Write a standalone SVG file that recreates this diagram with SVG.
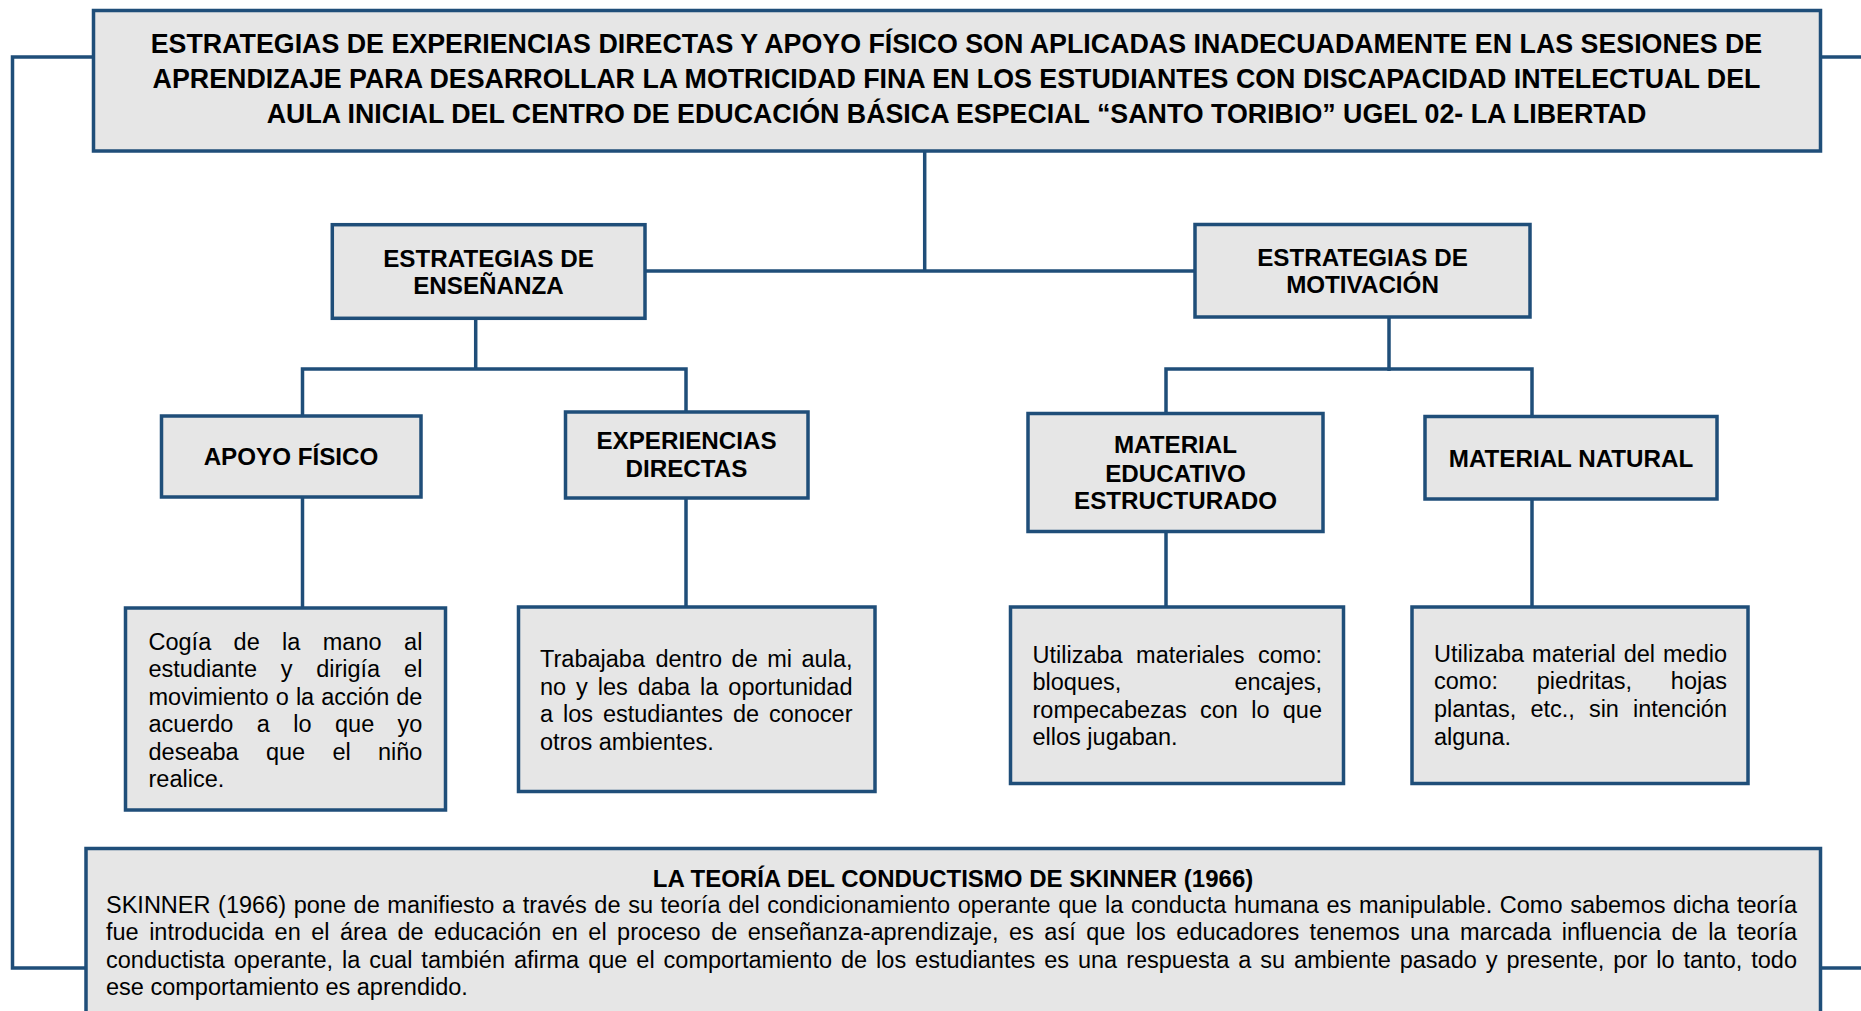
<svg xmlns="http://www.w3.org/2000/svg" width="1861" height="1011" viewBox="0 0 1861 1011">
<style>
.box{fill:#e6e6e6;stroke:#1f4e79;stroke-width:3.5}
.ln{fill:none;stroke:#1f4e79;stroke-width:3.5}
.b{font-family:"Liberation Sans",Arial,sans-serif;font-weight:bold;font-size:24.2px;fill:#000;text-anchor:middle}
.t{font-family:"Liberation Sans",Arial,sans-serif;font-size:23.5px;fill:#000}
.e{text-anchor:end}
</style>
<rect width="1861" height="1011" fill="#fff"/>
<g id="connectors">
<path class="ln" d="M93.5 57 H12.5 V968 H86"/>
<path class="ln" d="M1820.5 57 H1861"/>
<path class="ln" d="M1820.5 968 H1861"/>
<path class="ln" d="M924.7 151 V271"/>
<path class="ln" d="M645 271 H1195"/>
<path class="ln" d="M475.7 318 V369"/>
<path class="ln" d="M302.5 416 V369 H686 V412"/>
<path class="ln" d="M302.5 497 V608"/>
<path class="ln" d="M686 498 V607"/>
<path class="ln" d="M1389 317 V371"/>
<path class="ln" d="M1166 413.5 V369 H1532 V416.5"/>
<path class="ln" d="M1166 531.5 V607"/>
<path class="ln" d="M1532 499 V607"/>
</g>
<g id="problema">
<rect class="box" x="93.5" y="10.5" width="1727" height="140.5"/>
<text class="b" style="font-size:26.8px" x="956.5" y="53.3">ESTRATEGIAS DE EXPERIENCIAS DIRECTAS Y APOYO FÍSICO SON APLICADAS INADECUADAMENTE EN LAS SESIONES DE</text>
<text class="b" style="font-size:26.8px" x="956.5" y="88.3">APRENDIZAJE PARA DESARROLLAR LA MOTRICIDAD FINA EN LOS ESTUDIANTES CON DISCAPACIDAD INTELECTUAL DEL</text>
<text class="b" style="font-size:26.8px" x="956.5" y="123.3">AULA INICIAL DEL CENTRO DE EDUCACIÓN BÁSICA ESPECIAL “SANTO TORIBIO” UGEL 02- LA LIBERTAD</text>
</g>
<g id="ensenanza">
<rect class="box" x="332.3" y="224.7" width="312.7" height="93.6"/>
<text class="b" x="488.5" y="266.7">ESTRATEGIAS DE</text>
<text class="b" x="488.5" y="294">ENSEÑANZA</text>
</g>
<g id="motivacion">
<rect class="box" x="1195" y="224.5" width="335" height="92.5"/>
<text class="b" x="1362.5" y="265.7">ESTRATEGIAS DE</text>
<text class="b" x="1362.5" y="293.3">MOTIVACIÓN</text>
</g>
<g id="apoyo">
<rect class="box" x="161.5" y="416" width="259.5" height="81"/>
<text class="b" x="291" y="465">APOYO FÍSICO</text>
</g>
<g id="experiencias">
<rect class="box" x="565.5" y="412" width="242.5" height="86"/>
<text class="b" x="686.5" y="449.3">EXPERIENCIAS</text>
<text class="b" x="686.5" y="477.3">DIRECTAS</text>
</g>
<g id="material-educativo">
<rect class="box" x="1028" y="413.5" width="295" height="118"/>
<text class="b" x="1175.5" y="453.3">MATERIAL</text>
<text class="b" x="1175.5" y="481.7">EDUCATIVO</text>
<text class="b" x="1175.5" y="509.3">ESTRUCTURADO</text>
</g>
<g id="material-natural">
<rect class="box" x="1425" y="416.5" width="292" height="82.5"/>
<text class="b" x="1571" y="466.7">MATERIAL NATURAL</text>
</g>
<g id="desc-apoyo">
<rect class="box" x="125.5" y="608" width="320" height="202"/>
<text class="t" y="650"><tspan x="148.5">Cogía</tspan><tspan x="233.6">de</tspan><tspan x="282.1">la</tspan><tspan x="322.8">mano</tspan><tspan class="e" x="422.4">al</tspan></text>
<text class="t" y="677.4"><tspan x="148.5">estudiante</tspan><tspan x="280.7">y</tspan><tspan x="316.2">dirigía</tspan><tspan class="e" x="422.4">el</tspan></text>
<text class="t" y="704.8"><tspan x="148.5">movimiento</tspan><tspan x="275.7">o</tspan><tspan x="295.9">la</tspan><tspan x="321.3">acción</tspan><tspan class="e" x="422.4">de</tspan></text>
<text class="t" y="732.2"><tspan x="148.5">acuerdo</tspan><tspan x="256.8">a</tspan><tspan x="293.3">lo</tspan><tspan x="335">que</tspan><tspan class="e" x="422.4">yo</tspan></text>
<text class="t" y="759.6"><tspan x="148.5">deseaba</tspan><tspan x="265.9">que</tspan><tspan x="332.4">el</tspan><tspan class="e" x="422.4">niño</tspan></text>
<text class="t" x="148.5" y="787">realice.</text>
</g>
<g id="desc-experiencias">
<rect class="box" x="518.5" y="607" width="356.5" height="184.5"/>
<text class="t" y="667.3"><tspan x="540">Trabajaba</tspan><tspan x="655.4">dentro</tspan><tspan x="731.6">de</tspan><tspan x="767.3">mi</tspan><tspan class="e" x="852.5">aula,</tspan></text>
<text class="t" y="694.8"><tspan x="540">no</tspan><tspan x="576.1">y</tspan><tspan x="597.8">les</tspan><tspan x="637.8">daba</tspan><tspan x="700.1">la</tspan><tspan class="e" x="852.5">oportunidad</tspan></text>
<text class="t" y="722.3"><tspan x="540">a</tspan><tspan x="563">los</tspan><tspan x="602.9">estudiantes</tspan><tspan x="733">de</tspan><tspan class="e" x="852.5">conocer</tspan></text>
<text class="t" x="540" y="749.8">otros ambientes.</text>
</g>
<g id="desc-material-educativo">
<rect class="box" x="1010.5" y="607" width="333" height="176.5"/>
<text class="t" y="662.7"><tspan x="1032.5">Utilizaba</tspan><tspan x="1136.1">materiales</tspan><tspan class="e" x="1322">como:</tspan></text>
<text class="t" y="690.2"><tspan x="1032.5">bloques,</tspan><tspan class="e" x="1322">encajes,</tspan></text>
<text class="t" y="717.7"><tspan x="1032.5">rompecabezas</tspan><tspan x="1200">con</tspan><tspan x="1251.2">lo</tspan><tspan class="e" x="1322">que</tspan></text>
<text class="t" x="1032.5" y="745.2">ellos jugaban.</text>
</g>
<g id="desc-material-natural">
<rect class="box" x="1412" y="607" width="336" height="176.5"/>
<text class="t" y="661.7"><tspan x="1434">Utilizaba</tspan><tspan x="1532.1">material</tspan><tspan x="1623.7">del</tspan><tspan class="e" x="1727">medio</tspan></text>
<text class="t" y="689.3"><tspan x="1434">como:</tspan><tspan x="1536.8">piedritas,</tspan><tspan class="e" x="1727">hojas</tspan></text>
<text class="t" y="716.8"><tspan x="1434">plantas,</tspan><tspan x="1530.4">etc.,</tspan><tspan x="1588.9">sin</tspan><tspan class="e" x="1727">intención</tspan></text>
<text class="t" x="1434" y="744.5">alguna.</text>
</g>
<g id="teoria">
<rect class="box" x="86" y="848.5" width="1734.5" height="200"/>
<text class="b" style="font-size:24px" x="953" y="886.7">LA TEORÍA DEL CONDUCTISMO DE SKINNER (1966)</text>
<text class="t" x="106" y="912.7" word-spacing="1.1" textLength="1691" lengthAdjust="spacing">SKINNER (1966) pone de manifiesto a través de su teoría del condicionamiento operante que la conducta humana es manipulable. Como sabemos dicha teoría</text>
<text class="t" x="106" y="940.2" word-spacing="3.96" textLength="1691" lengthAdjust="spacing">fue introducida en el área de educación en el proceso de enseñanza-aprendizaje, es así que los educadores tenemos una marcada influencia de la teoría</text>
<text class="t" x="106" y="967.7" word-spacing="2.43" textLength="1691" lengthAdjust="spacing">conductista operante, la cual también afirma que el comportamiento de los estudiantes es una respuesta a su ambiente pasado y presente, por lo tanto, todo</text>
<text class="t" x="106" y="995.2">ese comportamiento es aprendido.</text>
</g>
</svg>
